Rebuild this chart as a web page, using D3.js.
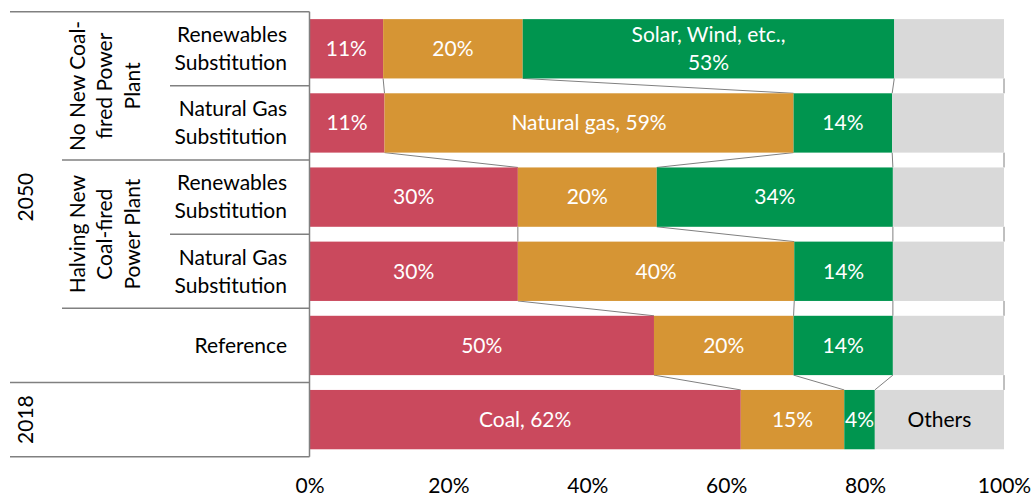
<!DOCTYPE html>
<html>
<head>
<meta charset="utf-8">
<script src="https://cdn.jsdelivr.net/npm/d3@7"></script>
<style>
  html, body { margin: 0; padding: 0; background: #fff; }
  svg { display: block; font-family: Lato, "Open Sans", sans-serif; }
</style>
</head>
<body>
<svg id="chart" width="1032" height="497"></svg>
<script>
// ---- data ----
const rowIds = ["nn-ren", "nn-gas", "hv-ren", "hv-gas", "ref", "y2018"];
const rowLabels = [["Renewables", "Substitution"], ["Natural Gas", "Substitution"],
                   ["Renewables", "Substitution"], ["Natural Gas", "Substitution"],
                   ["Reference"], []];
const groupLabels = [["No New Coal-", "fired Power", "Plant"], ["Halving New", "Coal-fired", "Power Plant"]];
const groupRows = [["nn-ren", "nn-gas"], ["hv-ren", "hv-gas"]];
const yearLabels = ["2050", "2018"];
const yearRows = [["nn-ren", "nn-gas", "hv-ren", "hv-gas", "ref"], ["y2018"]];

const seriesNames = ["Coal", "Natural gas", "Renewables", "Others"];
const coal   = [10.6, 10.8, 30.0, 30.0, 49.6, 62.1];
const gas    = [20.1, 58.9, 20.0, 39.8, 20.1, 14.9];
const renew  = [53.5, 14.2, 34.0, 14.2, 14.3, 4.4];
const others = [15.8, 16.1, 16.0, 16.0, 16.0, 18.6];

const coalLabels   = [["11%"], ["11%"], ["30%"], ["30%"], ["50%"], ["Coal, 62%"]];
const gasLabels    = [["20%"], ["Natural gas, 59%"], ["20%"], ["40%"], ["20%"], ["15%"]];
const renewLabels  = [["Solar, Wind, etc.,", "53%"], ["14%"], ["34%"], ["14%"], ["14%"], ["4%"]];
const othersLabels = [[], [], [], [], [], ["Others"]];

const xTicks = [0, 20, 40, 60, 80, 100];

// ---- setup ----
const colors = ["#CA495D", "#D69534", "#00954F", "#D9D9D9"];
const labelColors = ["#fff", "#fff", "#fff", "#000"];
const svg = d3.select("#chart");
const FS = 21;

const x = d3.scaleLinear().domain([0, 100]).range([309.5, 1004]);
const y = d3.scaleBand().domain(rowIds).range([11.7, 456.7]).paddingInner(0.2).paddingOuter(0.1);
const bw = y.bandwidth();

const seriesVals = [coal, gas, renew, others];
const seriesLabels = [coalLabels, gasLabels, renewLabels, othersLabels];

// build stacked table
const table = rowIds.map((id, i) => {
  const o = { id };
  seriesNames.forEach((s, k) => o[s] = seriesVals[k][i]);
  return o;
});
const stacked = d3.stack().keys(seriesNames)(table);

// series lines (connectors)
const lineG = svg.append("g");
for (let i = 0; i < rowIds.length - 1; i++) {
  stacked.forEach(layer => {
    const a = layer[i][1], b = layer[i + 1][1];
    lineG.append("line")
      .attr("x1", x(a)).attr("y1", y(rowIds[i]) + bw)
      .attr("x2", x(b)).attr("y2", y(rowIds[i + 1]))
      .attr("stroke", "#808080").attr("stroke-width", 1);
  });
}

// bars
stacked.forEach((layer, k) => {
  const g = svg.append("g");
  g.selectAll("rect").data(layer).join("rect")
    .attr("x", d => x(d[0]))
    .attr("y", (d, i) => y(rowIds[i]))
    .attr("width", d => x(d[1]) - x(d[0]))
    .attr("height", bw)
    .attr("fill", colors[k]);
  g.selectAll("text").data(layer).join("text")
    .attr("x", d => (x(d[0]) + x(d[1])) / 2)
    .attr("y", (d, i) => y(rowIds[i]) + bw / 2)
    .attr("text-anchor", "middle")
    .attr("fill", labelColors[k])
    .attr("font-size", FS)
    .each(function (d, i) {
      const lines = seriesLabels[k][i];
      const n = lines.length;
      d3.select(this).selectAll("tspan").data(lines).join("tspan")
        .attr("x", (x(d[0]) + x(d[1])) / 2)
        .attr("dy", (t, j) => j === 0 ? ((-(n - 1) / 2) * 1.35 + 0.35) + "em" : "1.35em")
        .text(t => t);
    });
});

// axis x
const xAxis = d3.axisBottom(x).tickValues(xTicks).tickSize(0).tickPadding(21.5).tickFormat(d => d + "%");
const ax = svg.append("g").attr("transform", "translate(0,456.7)").call(xAxis);
ax.select(".domain").remove();
ax.selectAll("text").attr("font-size", FS).attr("font-family", "Lato, sans-serif").attr("fill", "#000");

// vertical axis line
const top0 = y.range()[0], bot0 = y.range()[1];
svg.append("line").attr("x1", 309.5).attr("x2", 309.5).attr("y1", top0).attr("y2", bot0)
  .attr("stroke", "#808080").attr("stroke-width", 1.5);

// category separator lines
const step = y.step();
const boundaryY = i => top0 + i * step; // boundary before row i
const boundaryX = [10, 170, 62, 170, 62, 10, 10];
boundaryX.forEach((bx, i) => {
  svg.append("line").attr("x1", bx).attr("x2", 309.5)
    .attr("y1", boundaryY(i)).attr("y2", boundaryY(i))
    .attr("stroke", "#808080").attr("stroke-width", 1.5);
});

const rowCenter = id => y(id) + bw / 2;

// level 3 labels
svg.append("g").selectAll("text").data(rowIds).join("text")
  .attr("text-anchor", "end")
  .attr("font-size", FS)
  .attr("fill", "#000")
  .each(function (id, i) {
    const lines = rowLabels[i];
    const n = lines.length;
    d3.select(this).selectAll("tspan").data(lines).join("tspan")
      .attr("x", 287)
      .attr("y", (t, j) => rowCenter(id) + (j - (n - 1) / 2) * 28)
      .attr("dy", "0.35em")
      .text(t => t);
  });

// level 2 labels (rotated)
groupLabels.forEach((lines, gi) => {
  const ids = groupRows[gi];
  const cy = (y(ids[0]) + y(ids[ids.length - 1]) + bw) / 2;
  const cx = 105;
  const t = svg.append("text")
    .attr("transform", `translate(${cx},${cy}) rotate(-90)`)
    .attr("text-anchor", "middle").attr("font-size", FS).attr("fill", "#000");
  const n = lines.length;
  t.selectAll("tspan").data(lines).join("tspan")
    .attr("x", 0)
    .attr("y", (s, j) => (j - (n - 1) / 2) * 27.5)
    .attr("dy", "0.35em")
    .text(s => s);
});

// level 1 labels (rotated)
yearLabels.forEach((lab, yi) => {
  const ids = yearRows[yi];
  const cy = (y(ids[0]) + y(ids[ids.length - 1]) + bw) / 2;
  svg.append("text")
    .attr("transform", `translate(26,${cy}) rotate(-90)`)
    .attr("text-anchor", "middle").attr("dy", "0.35em")
    .attr("font-size", FS).attr("fill", "#000")
    .text(lab);
});
</script>
</body>
</html>
